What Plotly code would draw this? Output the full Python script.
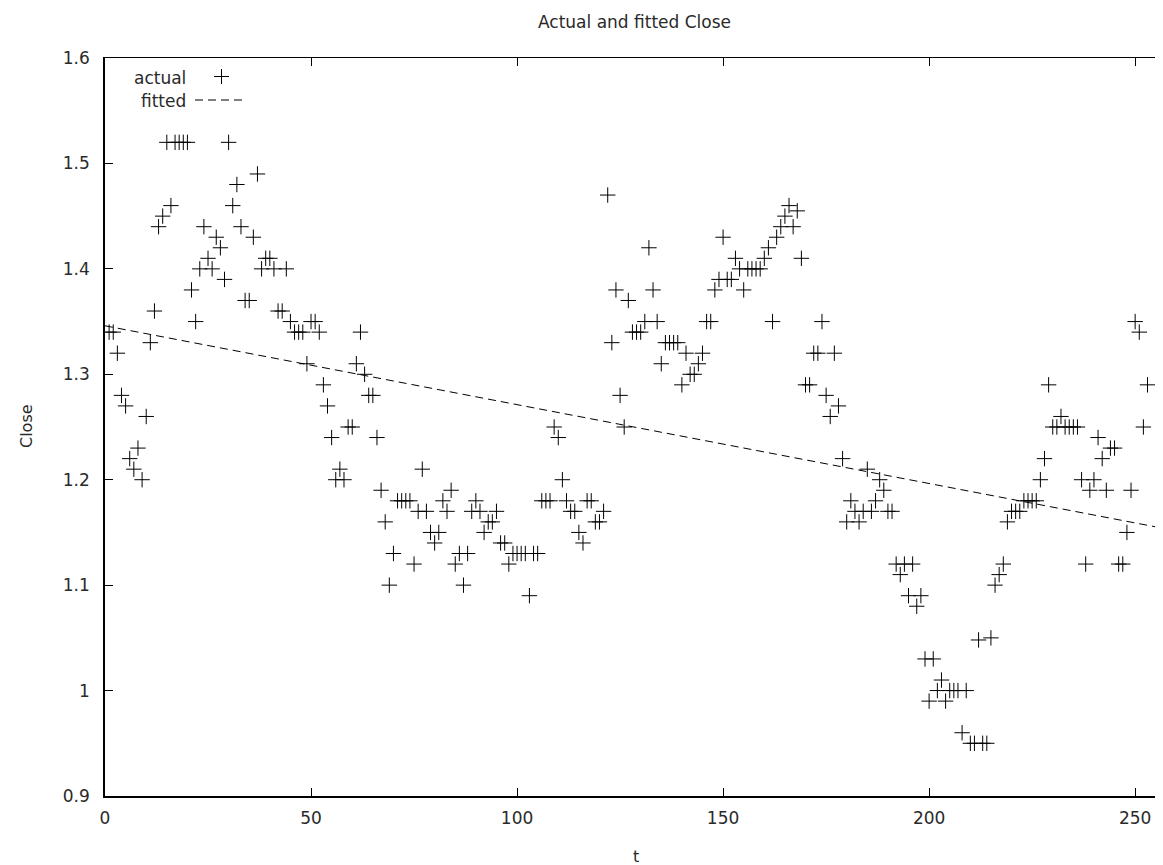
import plotly.graph_objects as go

# ---- data ----
t_index = list(range(1, 254))
close_actual = [
    1.34, 1.34, 1.32, 1.28, 1.27, 1.22, 1.21, 1.23, 1.20, 1.26,   # 1-10
    1.33, 1.36, 1.44, 1.45, 1.52, 1.46, 1.52, 1.52, 1.52, 1.52,   # 11-20
    1.38, 1.35, 1.40, 1.44, 1.41, 1.40, 1.43, 1.42, 1.39, 1.52,   # 21-30
    1.46, 1.48, 1.44, 1.37, 1.37, 1.43, 1.49, 1.40, 1.41, 1.41,   # 31-40
    1.40, 1.36, 1.36, 1.40, 1.35, 1.34, 1.34, 1.34, 1.31, 1.35,   # 41-50
    1.35, 1.34, 1.29, 1.27, 1.24, 1.20, 1.21, 1.20, 1.25, 1.25,   # 51-60
    1.31, 1.34, 1.30, 1.28, 1.28, 1.24, 1.19, 1.16, 1.10, 1.13,   # 61-70
    1.18, 1.18, 1.18, 1.18, 1.12, 1.17, 1.21, 1.17, 1.15, 1.14,   # 71-80
    1.15, 1.18, 1.17, 1.19, 1.12, 1.13, 1.10, 1.13, 1.17, 1.18,   # 81-90
    1.17, 1.15, 1.16, 1.16, 1.17, 1.14, 1.14, 1.12, 1.13, 1.13,   # 91-100
    1.13, 1.13, 1.09, 1.13, 1.13, 1.18, 1.18, 1.18, 1.25, 1.24,   # 101-110
    1.20, 1.18, 1.17, 1.17, 1.15, 1.14, 1.18, 1.18, 1.16, 1.16,   # 111-120
    1.17, 1.47, 1.33, 1.38, 1.28, 1.25, 1.37, 1.34, 1.34, 1.34,   # 121-130
    1.35, 1.42, 1.38, 1.35, 1.31, 1.33, 1.33, 1.33, 1.33, 1.29,   # 131-140
    1.32, 1.30, 1.30, 1.31, 1.32, 1.35, 1.35, 1.38, 1.39, 1.43,   # 141-150
    1.39, 1.39, 1.41, 1.40, 1.38, 1.40, 1.40, 1.40, 1.40, 1.41,   # 151-160
    1.42, 1.35, 1.43, 1.44, 1.45, 1.46, 1.44, 1.455, 1.41, 1.29,  # 161-170
    1.29, 1.32, 1.32, 1.35, 1.28, 1.26, 1.32, 1.27, 1.22, 1.16,   # 171-180
    1.18, 1.17, 1.16, 1.17, 1.21, 1.17, 1.18, 1.20, 1.19, 1.17,   # 181-190
    1.17, 1.12, 1.11, 1.12, 1.09, 1.12, 1.08, 1.09, 1.03, 0.99,   # 191-200
    1.03, 1.00, 1.01, 0.99, 1.00, 1.00, 1.00, 0.96, 1.00, 0.95,   # 201-210
    0.95, 1.048, 0.95, 0.95, 1.05, 1.10, 1.11, 1.12, 1.16, 1.17,  # 211-220
    1.17, 1.17, 1.18, 1.18, 1.18, 1.18, 1.20, 1.22, 1.29, 1.25,   # 221-230
    1.25, 1.26, 1.25, 1.25, 1.25, 1.25, 1.20, 1.12, 1.19, 1.20,   # 231-240
    1.24, 1.22, 1.19, 1.23, 1.23, 1.12, 1.12, 1.15, 1.19, 1.35,   # 241-250
    1.34, 1.25, 1.29,                                             # 251-253
]
fitted_t = [0, 258.7]
fitted_close = [1.346, 1.1525]

x_ticks = [0, 50, 100, 150, 200, 250]
y_ticks = [0.9, 1.0, 1.1, 1.2, 1.3, 1.4, 1.5, 1.6]
y_tick_text = ["0.9", "1", "1.1", "1.2", "1.3", "1.4", "1.5", "1.6"]

X_RANGE = [0, 258.7]
Y_RANGE = [0.9, 1.6]

# ---- canvas geometry (pixels) ----
W, H = 1163, 865
L, R, T, B = 97, 0, 50, 77
PW, PH = W - L - R, H - T - B


def px(x):
    return (x - L) / PW


def py(y):
    return (H - B - y) / PH


FONT = "DejaVu Sans"
FS = 17
TXT = "#2a2a2a"

fig = go.Figure()
fig.add_trace(go.Scatter(
    x=t_index, y=close_actual, mode="markers",
    marker=dict(symbol="cross-thin", size=11, color="black",
                line=dict(width=1, color="black")),
    showlegend=False, hoverinfo="x+y"))
fig.add_trace(go.Scatter(
    x=fitted_t, y=fitted_close, mode="lines",
    line=dict(color="black", width=1, dash="8px,5px"),
    showlegend=False))
# dummy trace so the mirrored axes are drawn
fig.add_trace(go.Scatter(x=[], y=[], xaxis="x2", yaxis="y2", showlegend=False))

axis_common = dict(ticks="inside", ticklen=8, tickwidth=1, tickcolor="black",
                   showgrid=False, zeroline=False,
                   tickfont=dict(family=FONT, size=FS, color=TXT))

fig.update_layout(
    width=W, height=H,
    margin=dict(l=L, r=R, t=T, b=B, pad=0),
    paper_bgcolor="white", plot_bgcolor="white",
    showlegend=False,
    xaxis=dict(range=X_RANGE, tickvals=x_ticks, showline=True, linecolor="black",
               linewidth=1.5, ticklabelstandoff=6, **axis_common),
    yaxis=dict(range=Y_RANGE, tickvals=y_ticks, ticktext=y_tick_text, showline=True,
               linecolor="black", linewidth=1.5, ticklabelstandoff=10, **axis_common),
    xaxis2=dict(range=X_RANGE, tickvals=x_ticks, overlaying="x", side="top",
                matches="x", showline=True, linecolor="black", linewidth=1,
                showticklabels=False, **axis_common),
    yaxis2=dict(range=Y_RANGE, tickvals=y_ticks, overlaying="y", side="right",
                matches="y", showline=False, showticklabels=False, **axis_common),
)

annotations = [
    dict(text="Actual and fitted Close", x=px(626), y=py(14), xanchor="center",
         yanchor="middle", font=dict(family=FONT, size=FS, color=TXT)),
    dict(text="t", x=px(628), y=py(848), xanchor="center", yanchor="middle",
         font=dict(family=FONT, size=FS - 1, color=TXT)),
    dict(text="Close", x=px(18), y=py(418), xanchor="center", yanchor="middle",
         textangle=-90, font=dict(family=FONT, size=FS - 1, color=TXT)),
    dict(text="actual", x=px(180), y=py(70), xanchor="right", yanchor="middle",
         font=dict(family=FONT, size=FS, color=TXT)),
    dict(text="fitted", x=px(180), y=py(93), xanchor="right", yanchor="middle",
         font=dict(family=FONT, size=FS, color=TXT)),
]
for a in annotations:
    a.update(xref="paper", yref="paper", showarrow=False)
fig.update_layout(annotations=annotations)

# legend samples (gnuplot style key: text then sample)
shapes = [
    dict(type="line", x0=px(206), x1=px(221), y0=py(68.5), y1=py(68.5),
         line=dict(color="black", width=1)),
    dict(type="line", x0=px(213.5), x1=px(213.5), y0=py(61), y1=py(76),
         line=dict(color="black", width=1)),
    dict(type="line", x0=px(187), x1=px(239), y0=py(92), y1=py(92),
         line=dict(color="black", width=1, dash="8px,5px")),
]
for s in shapes:
    s.update(xref="paper", yref="paper")
fig.update_layout(shapes=shapes)

fig.write_html("out.html")
